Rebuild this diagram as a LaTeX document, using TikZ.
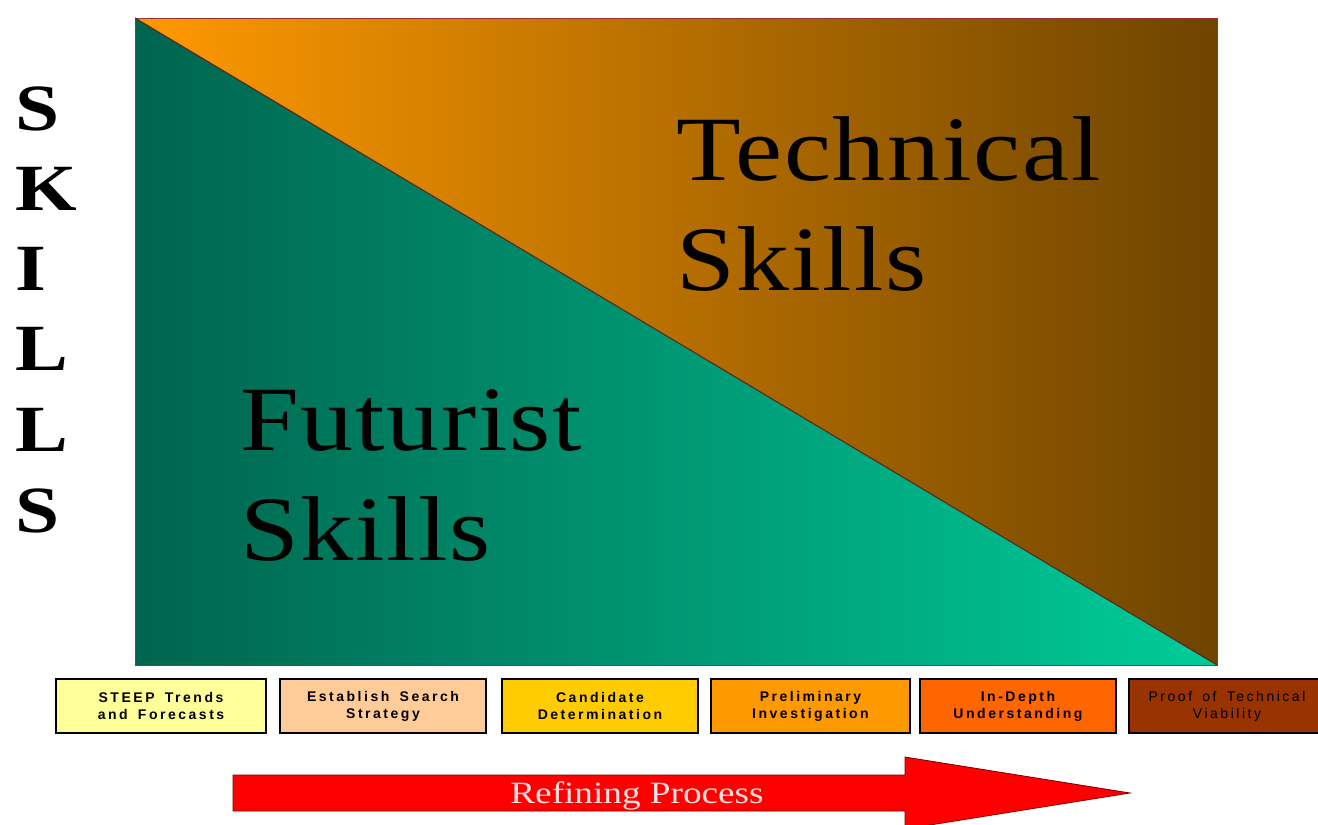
\documentclass[tikz,border=0pt]{standalone}
\usepackage{fontspec}
\setmainfont{Liberation Serif}
\newfontfamily\stagefont[LetterSpace=18,WordSpace=1.6]{Liberation Sans}
\newfontfamily\titlefont[FakeStretch=1.15,LetterSpace=2]{Liberation Serif}
\newfontfamily\widefont[FakeStretch=1.2]{Liberation Serif}

\definecolor{tecl}  {RGB}{255,153,0}
\definecolor{tecr}  {RGB}{110,68,0}
\definecolor{futl}  {RGB}{0,100,78}
\definecolor{futr}  {RGB}{0,204,153}
\definecolor{frame} {RGB}{153,51,51}
\definecolor{stA}   {RGB}{255,255,153}
\definecolor{stB}   {RGB}{255,204,153}
\definecolor{stC}   {RGB}{255,204,0}
\definecolor{stD}   {RGB}{255,153,0}
\definecolor{stE}   {RGB}{255,102,0}
\definecolor{stF}   {RGB}{153,51,0}

\begin{document}
\begin{tikzpicture}[x=1pt,y=-1pt,
    stage/.style={draw=black,line width=1.5pt,minimum width=196pt,minimum height=54pt,
      inner sep=0pt,align=center,font=\stagefont\fontsize{14}{17}\selectfont\bfseries},
    letter/.style={anchor=base west,inner sep=0pt,font=\widefont\fontsize{66}{66}\selectfont\bfseries},
    title/.style={anchor=base west,inner sep=0pt,align=left,font=\titlefont\fontsize{92}{110}\selectfont}]

    \useasboundingbox (0,0) rectangle (1318,825);

    % the square, split along its diagonal
    \coordinate (tl) at (135,18);
    \coordinate (tr) at (1217,18);
    \coordinate (bl) at (135,665);
    \coordinate (br) at (1217,665);
    \shade[left color=tecl,right color=tecr] (tl) -- (tr) -- (br) -- cycle;
    \shade[left color=futl,right color=futr] (tl) -- (br) -- (bl) -- cycle;
    \draw[frame,line width=1pt] (tl) rectangle (br);
    \draw[frame!60!black,line width=1pt] (tl) -- (br);

    % base is the last line
    \node[title] (tech) at (676,290) {Technical\\Skills};
    \node[title] (fut) at (240,560) {Futurist\\Skills};

    % vertical label
    \foreach \ch/\yy [count=\i] in {S/130,K/210,I/290,L/370,L/451,S/532}
        \node[letter] (sk\i) at (15,\yy) {\ch};

    % stages
    \node[stage,fill=stA,minimum width=210pt] (steep) at (161,706) {STEEP Trends\\and Forecasts};
    \node[stage,fill=stB,minimum width=206pt] (search) at (383,706) {Establish Search\\Strategy};
    \node[stage,fill=stC] (cand) at (600,706) {Candidate\\Determination};
    \node[stage,fill=stD,minimum width=199pt] (prelim) at (810.5,706) {Preliminary\\Investigation};
    \node[stage,fill=stE] (depth) at (1018,706) {In-Depth\\Understanding};
    \node[stage,fill=stF,text=black,font=\stagefont\fontsize{14}{17}\selectfont] (proof) at (1227,706) {Proof of Technical\\Viability};

    % big arrow
    \draw[fill=red,draw=red!50!black,line width=0.8pt] (233,775) -- (905,775) -- (905,757) -- (1130,793)
        -- (905,829) -- (905,811) -- (233,811) -- cycle;
    \node[anchor=base,inner sep=0pt,text=white!88!red,font=\widefont\fontsize{31}{31}\selectfont] (refining) at (637,803) {Refining Process};

\end{tikzpicture}
\end{document}
